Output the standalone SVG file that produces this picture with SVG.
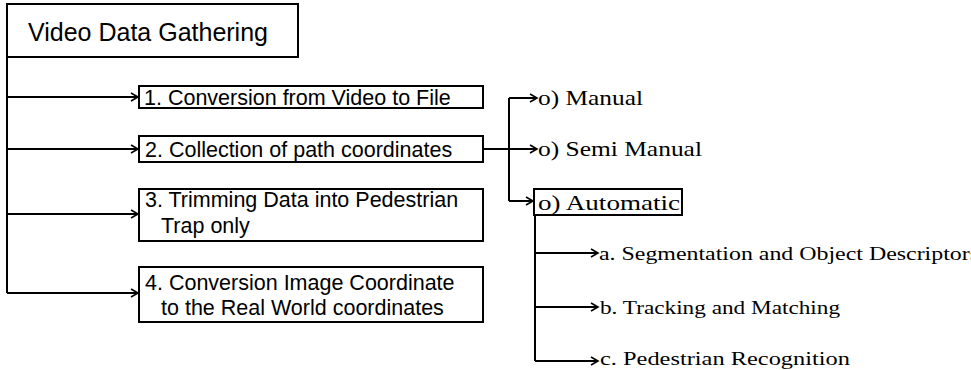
<svg xmlns="http://www.w3.org/2000/svg" width="971" height="370" viewBox="0 0 971 370">
<style>
.box{fill:#fff;stroke:#000;stroke-width:2}
.ln{fill:none;stroke:#000;stroke-width:2}
.sans{font-family:"Liberation Sans",Arial,sans-serif;fill:#000}
.mono{font-family:"Liberation Serif","Times New Roman",serif;fill:#000}
</style>
<defs>
<marker id="ah" markerWidth="10" markerHeight="10" refX="8" refY="5" orient="auto" markerUnits="userSpaceOnUse">
<path d="M1,1 L8,5 L1,9" fill="none" stroke="#000" stroke-width="1.6"/>
</marker>
</defs>
<g id="connectors">
<path class="ln" d="M7,57 V293"/>
<path class="ln" d="M7,97 H138" marker-end="url(#ah)"/>
<path class="ln" d="M7,149 H138" marker-end="url(#ah)"/>
<path class="ln" d="M7,214 H138" marker-end="url(#ah)"/>
<path class="ln" d="M7,293 H138" marker-end="url(#ah)"/>
<path class="ln" d="M483,149 H537" marker-end="url(#ah)"/>
<path class="ln" d="M509,98 V201"/>
<path class="ln" d="M509,98 H537" marker-end="url(#ah)"/>
<path class="ln" d="M509,201 H533" marker-end="url(#ah)"/>
<path class="ln" d="M535,215 V361"/>
<path class="ln" d="M535,253 H598" marker-end="url(#ah)"/>
<path class="ln" d="M535,307 H598" marker-end="url(#ah)"/>
<path class="ln" d="M535,361 H598" marker-end="url(#ah)"/>
</g>
<g id="root">
<rect class="box" x="7" y="4" width="291" height="53"/>
<text class="sans" x="28" y="41" font-size="25">Video Data Gathering</text>
</g>
<g id="step1">
<rect class="box" x="139" y="86" width="344" height="22"/>
<text class="sans" x="144" y="105" font-size="21.5">1. Conversion from Video to File</text>
</g>
<g id="step2">
<rect class="box" x="139" y="136" width="344" height="26"/>
<text class="sans" x="145" y="157" font-size="21.5">2. Collection of path coordinates</text>
</g>
<g id="step3">
<rect class="box" x="139" y="189" width="344" height="52"/>
<text class="sans" x="145" y="207" font-size="21.5">3. Trimming Data into Pedestrian</text>
<text class="sans" x="161" y="233" font-size="21.5">Trap only</text>
</g>
<g id="step4">
<rect class="box" x="139" y="267" width="344" height="55"/>
<text class="sans" x="145" y="290" font-size="21.5">4. Conversion Image Coordinate</text>
<text class="sans" x="161" y="315" font-size="21.5">to the Real World coordinates</text>
</g>
<g id="manual">
<text class="mono" x="538" y="105" font-size="22" textLength="105" lengthAdjust="spacingAndGlyphs">o)  Manual</text>
</g>
<g id="semimanual">
<text class="mono" x="538" y="156" font-size="22" textLength="164" lengthAdjust="spacingAndGlyphs">o)  Semi  Manual</text>
</g>
<g id="automatic">
<rect class="box" x="534" y="189" width="148" height="26"/>
<text class="mono" x="538" y="210" font-size="22" textLength="142" lengthAdjust="spacingAndGlyphs">o)  Automatic</text>
</g>
<g id="suba">
<text class="mono" x="599" y="260" font-size="18.5" textLength="380" lengthAdjust="spacingAndGlyphs">a.  Segmentation  and  Object  Descriptors</text>
</g>
<g id="subb">
<text class="mono" x="600" y="314" font-size="18.5" textLength="240" lengthAdjust="spacingAndGlyphs">b.  Tracking  and  Matching</text>
</g>
<g id="subc">
<text class="mono" x="600" y="365" font-size="18.5" textLength="250" lengthAdjust="spacingAndGlyphs">c.  Pedestrian  Recognition</text>
</g>
</svg>
